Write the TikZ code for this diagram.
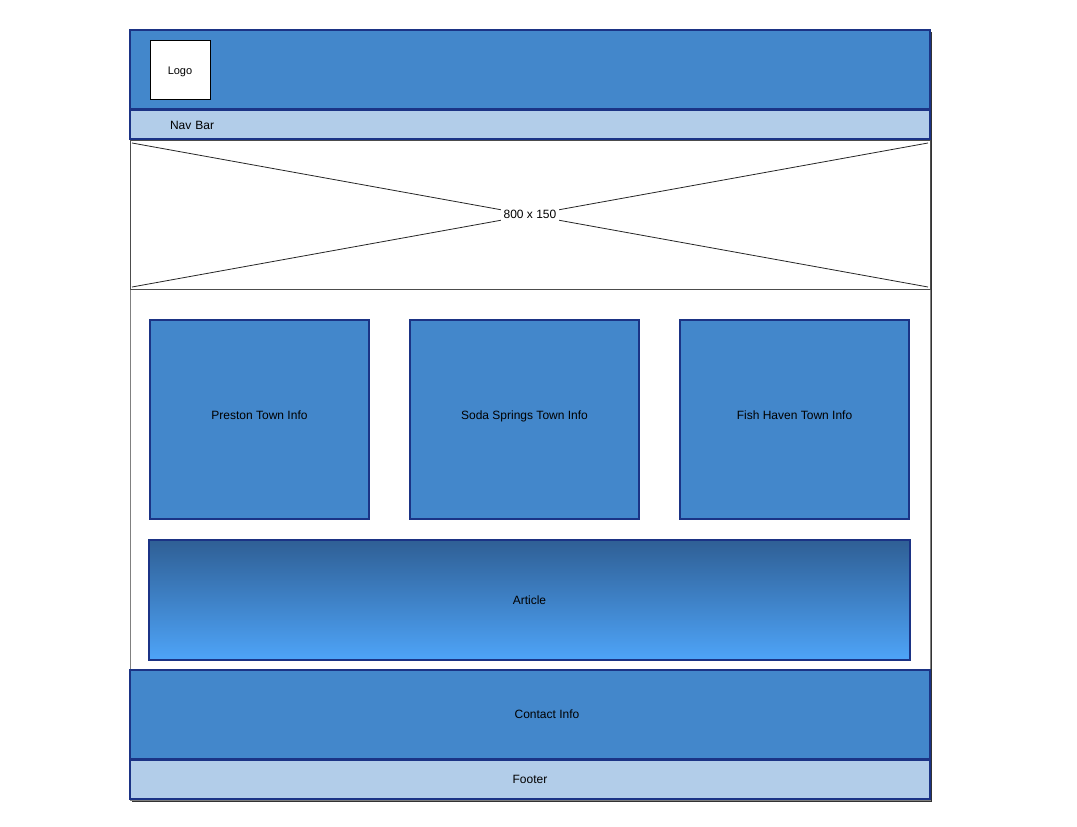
\documentclass[tikz,border=0pt]{standalone}
\usepackage{fontspec}
\setmainfont{Liberation Sans}
\definecolor{midblue}{HTML}{4387CB}
\definecolor{lightblue}{HTML}{B2CDE9}
\definecolor{edgeblue}{HTML}{1B3385}
\definecolor{topblue}{HTML}{2F5F95}
\definecolor{lowblue}{HTML}{4EA4F8}
\tikzset{
  every node/.style={font=\fontsize{12}{14}\selectfont, inner sep=0pt, outer sep=0pt, anchor=north west},
  bar/.style={draw=edgeblue, line width=2.5pt, fill=midblue},
  thinbar/.style={draw=edgeblue, line width=2pt, fill=lightblue},
  townbox/.style={draw=edgeblue, line width=1.6pt, fill=midblue, minimum height=199pt, text depth=8pt},
}

\begin{document}
\begin{tikzpicture}[x=1pt,y=-1pt]
	\useasboundingbox (0,0) rectangle (1077,827);
	% page frame
	\fill[white] (130,30) rectangle (930,800);
	\draw[black!80, line width=1.5pt] (931,32) -- (931,801) -- (132,801);
	\draw[gray, line width=0.8pt] (130,30) rectangle (930,800);
	% header, nav and banner
	\path (130,30) node(header)[bar, minimum width=800pt, minimum height=79pt]{}
		(150,40) node(logo)[draw=black, line width=0.8pt, fill=white, minimum width=60pt, minimum height=59pt, font=\fontsize{11}{13}\selectfont, text height=12pt, align=center]{Logo}
		(130,110) node(navbar)[thinbar, minimum height=29pt, text width=720pt, inner xsep=40pt, align=left, text height=10pt]{Nav Bar}
		(130,140) node(banner)[draw=gray!60!black, line width=0.8pt, fill=white, minimum width=800pt, minimum height=149pt]{};
	\draw[black!85, line width=0.8pt] ([shift={(2,3)}]banner.north west) -- ([shift={(-2,-2)}]banner.south east);
	\draw[black!85, line width=0.8pt] ([shift={(2,-2)}]banner.south west) -- ([shift={(-2,3)}]banner.north east);
	\node(size)[anchor=center, fill=white, inner xsep=3pt, inner ysep=2pt] at (banner.center) {800 x 150};
	% town boxes
	\path (150,320) node(preston)[townbox, minimum width=219pt]{Preston Town Info}
		(410,320) node(soda)[townbox, minimum width=229pt]{Soda Springs Town Info}
		(680,320) node(fish)[townbox, minimum width=229pt]{Fish Haven Town Info};
	% article
	\path (149,540) node(article)[draw=edgeblue, line width=1.6pt, top color=topblue, bottom color=lowblue, minimum width=761pt, minimum height=120pt]{Article};
	% contact and footer
	\path (130,670) node(contact)[bar, minimum width=800pt, minimum height=89pt, label={[xshift=17pt]center:Contact Info}]{}
		(130,760) node(footer)[thinbar, minimum width=800pt, minimum height=39pt]{Footer};
\end{tikzpicture}
\end{document}
